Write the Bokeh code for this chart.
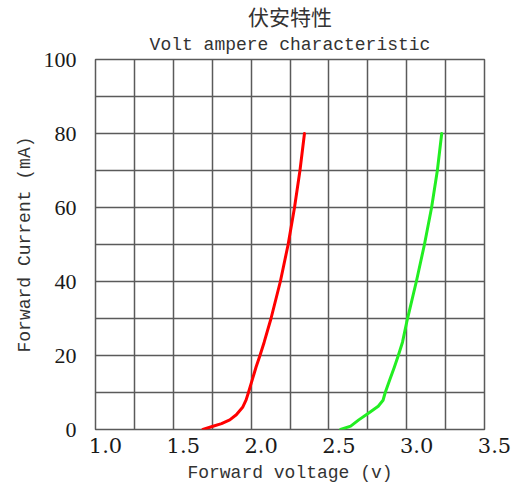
from bokeh.plotting import figure
from bokeh.models import Range1d, FixedTicker, Title
from bokeh.embed import file_html
from bokeh.resources import INLINE

# ---- texts ----
title_cn = "伏安特性"
title_en = "Volt ampere characteristic"
x_title = "Forward voltage (v)"
y_title = "Forward Current (mA)"

# ---- data ----
red_voltage = [1.69, 1.75, 1.81, 1.863, 1.905, 1.947, 1.968, 1.983, 2.0, 2.032, 2.057, 2.084,
               2.128, 2.188, 2.238, 2.279, 2.314, 2.343]
red_current = [0.0, 0.8, 1.6, 2.6, 4.0, 6.1, 8.0, 10, 12.4, 16.9, 20, 23.6,
               30, 40, 50, 60, 70, 80]
green_voltage = [2.575, 2.64, 2.692, 2.754, 2.817, 2.848, 2.862, 2.890, 2.921, 2.946, 2.973,
                 3.0, 3.062, 3.114, 3.16, 3.197, 3.225]
green_current = [0.0, 0.9, 2.6, 4.4, 6.3, 7.9, 10, 13.3, 16.9, 20, 23.6,
                 29, 40, 50, 60, 70, 80]

# ---- ticks ----
x_ticks = [1.0, 1.5, 2.0, 2.5, 3.0, 3.5]
x_tick_labels = ["1.0", "1.5", "2.0", "2.5", "3.0", "3.5"]
y_ticks = [0, 20, 40, 60, 80, 100]
y_tick_labels = ["0", "20", "40", "60", "80", "100"]
x_grid_lines = [1.0, 1.25, 1.5, 1.75, 2.0, 2.25, 2.5, 2.75, 3.0, 3.25, 3.5]
y_grid_lines = [0, 10, 20, 30, 40, 50, 60, 70, 80, 90, 100]

X_MIN, X_MAX = 1.0, 3.5
Y_MIN, Y_MAX = 0, 100

p = figure(width=526, height=487, title=None,
           x_range=Range1d(X_MIN, X_MAX), y_range=Range1d(Y_MIN, Y_MAX),
           output_backend="svg", toolbar_location=None,
           min_border_left=95, min_border_right=42,
           min_border_top=59, min_border_bottom=58)
p.background_fill_color = "white"
p.border_fill_color = "white"
p.outline_line_color = "#5a5a5a"
p.outline_line_width = 1.5

# grid
p.xgrid.ticker = FixedTicker(ticks=x_grid_lines)
p.ygrid.ticker = FixedTicker(ticks=y_grid_lines)
for g in (p.xgrid, p.ygrid):
    g.grid_line_color = "#5a5a5a"
    g.grid_line_width = 1.5
    g.grid_line_alpha = 1.0

# x axis (labels sit a little right of their tick, as in the reference)
NBSP = "\u00a0"
xa = p.xaxis[0]
xa.ticker = FixedTicker(ticks=x_ticks)
xa.major_label_overrides = {t: NBSP * 3 + l for t, l in zip(x_ticks, x_tick_labels)}
xa.axis_line_color = None
xa.major_tick_line_color = None
xa.minor_tick_line_color = None
xa.major_label_standoff = -2
xa.major_label_text_font = "DejaVu Serif"
xa.major_label_text_font_size = "21px"
xa.major_label_text_color = "#1a1a1a"
xa.axis_label = x_title
xa.axis_label_text_font = "Liberation Mono"
xa.axis_label_text_font_size = "18px"
xa.axis_label_text_font_style = "normal"
xa.axis_label_text_color = "#333333"
xa.axis_label_standoff = 2

# y axis
ya = p.yaxis[0]
ya.ticker = FixedTicker(ticks=y_ticks)
ya.major_label_overrides = {t: l for t, l in zip(y_ticks, y_tick_labels)}
ya.axis_line_color = None
ya.major_tick_line_color = None
ya.minor_tick_line_color = None
ya.major_label_standoff = 13
ya.major_label_text_font = "Liberation Serif"
ya.major_label_text_font_size = "22px"
ya.major_label_text_color = "#1a1a1a"
ya.axis_label = y_title
ya.axis_label_text_font = "Liberation Mono"
ya.axis_label_text_font_size = "18px"
ya.axis_label_text_font_style = "normal"
ya.axis_label_text_color = "#333333"
ya.axis_label_standoff = 6

# titles (English closest to the plot, Chinese above it)
p.add_layout(Title(text=title_en, align="center", text_font="Liberation Mono",
                   text_font_size="18px", text_font_style="normal",
                   text_color="#333333", standoff=10), "above")
p.add_layout(Title(text=title_cn, align="center", text_font="Noto Sans CJK SC",
                   text_font_size="21px", text_font_style="normal",
                   text_color="#333333", standoff=-6), "above")

# curves
p.line(red_voltage, red_current, line_color="#ff0000", line_width=3, line_join="round", line_cap="round")
p.line(green_voltage, green_current, line_color="#22ee22", line_width=3, line_join="round", line_cap="round")

open("out.html", "w").write(file_html(p, INLINE))
